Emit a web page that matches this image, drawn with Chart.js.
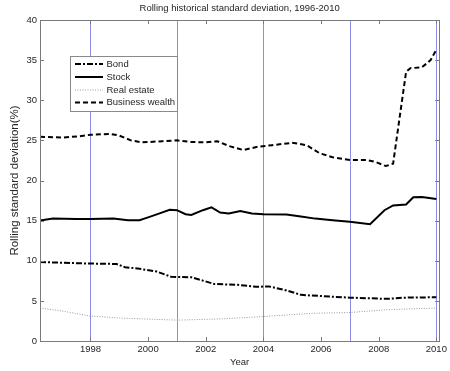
<!DOCTYPE html>
<html>
<head>
<meta charset="utf-8">
<script src="https://cdn.jsdelivr.net/npm/chart.js@4/dist/chart.umd.min.js"></script>
<style>
  html, body { margin: 0; padding: 0; background: #ffffff; }
  #wrap { width: 450px; height: 371px; }
</style>
</head>
<body>
<div id="wrap"><canvas id="chart" width="450" height="371"></canvas></div>
<script>
// Rolling standard deviation (%) by asset class
const bondYears  = [1996.25, 1997.0, 1998.0, 1998.9, 1999.2, 1999.7, 2000.3, 2000.8, 2001.5, 2002.3, 2003.1, 2003.75, 2004.2, 2004.8, 2005.3, 2006.0, 2007.0, 2008.3, 2008.85, 2010.0];
const bondValues = [9.85, 9.75, 9.65, 9.6, 9.2, 9.0, 8.65, 8.0, 7.95, 7.1, 7.0, 6.75, 6.8, 6.3, 5.75, 5.6, 5.4, 5.25, 5.4, 5.45];

const stockYears  = [1996.25, 1996.7, 1997.5, 1998.0, 1998.8, 1999.3, 1999.7, 2000.0, 2000.4, 2000.75, 2001.0, 2001.3, 2001.5, 2001.9, 2002.2, 2002.5, 2002.8, 2003.2, 2003.6, 2004.0, 2004.8, 2005.3, 2005.8, 2006.4, 2007.0, 2007.7, 2008.2, 2008.5, 2008.95, 2009.2, 2009.5, 2010.0];
const stockValues = [15.0, 15.25, 15.2, 15.2, 15.25, 15.05, 15.05, 15.4, 15.9, 16.35, 16.3, 15.8, 15.7, 16.3, 16.65, 16.0, 15.9, 16.2, 15.9, 15.8, 15.75, 15.5, 15.25, 15.05, 14.85, 14.55, 16.3, 16.9, 17.0, 17.9, 17.95, 17.7];

const realEstateYears  = [1996.25, 1997.0, 1998.0, 1999.1, 2001.0, 2002.5, 2003.8, 2005.7, 2007.0, 2008.3, 2009.5, 2010.0];
const realEstateValues = [4.1, 3.75, 3.1, 2.85, 2.6, 2.75, 3.0, 3.45, 3.55, 3.9, 4.05, 4.1];

const businessYears  = [1996.25, 1997.0, 1997.6, 1998.0, 1998.7, 1999.0, 1999.4, 1999.8, 2000.5, 2001.0, 2001.5, 2002.0, 2002.4, 2002.8, 2003.3, 2003.8, 2004.3, 2005.0, 2005.5, 2005.95, 2006.4, 2007.0, 2007.6, 2007.9, 2008.25, 2008.5, 2008.95, 2009.1, 2009.5, 2009.8, 2010.0];
const businessValues = [25.45, 25.35, 25.5, 25.7, 25.8, 25.6, 25.0, 24.75, 24.9, 25.0, 24.8, 24.75, 24.9, 24.3, 23.8, 24.2, 24.4, 24.7, 24.4, 23.4, 22.9, 22.55, 22.55, 22.3, 21.8, 22.1, 33.55, 34.0, 34.1, 35.0, 36.3];

const seriesNames = ['Bond', 'Stock', 'Real estate', 'Business wealth'];
const yearTicks = [1998, 2000, 2002, 2004, 2006, 2008, 2010];
const markerYears = [1998, 2001, 2004, 2007, 2010];

const FONT = '"Liberation Sans", Arial, Helvetica, sans-serif';
const TEXT = '#262626';
const AXIS = '#7a7a7a';

function pts(xs, ys) { return xs.map((x, i) => ({ x: x, y: ys[i] })); }

// Vertical reference lines, box frame, inward ticks and the legend
const decorations = {
  id: 'decorations',
  beforeDatasetsDraw(chart) {
    const { ctx, chartArea: a, scales: { x } } = chart;
    ctx.save();
    ctx.setLineDash([]);
    ctx.strokeStyle = '#8c8cec';
    ctx.lineWidth = 1;
    markerYears.forEach(yr => {
      const px = Math.round(x.getPixelForValue(yr)) + 0.5;
      ctx.beginPath();
      ctx.moveTo(px, a.top);
      ctx.lineTo(px, a.bottom);
      ctx.stroke();
    });
    ctx.restore();
  },
  afterDatasetsDraw(chart) {
    const { ctx, chartArea: a, scales: { x, y } } = chart;
    ctx.save();
    ctx.strokeStyle = AXIS;
    ctx.lineWidth = 1;
    ctx.strokeRect(Math.round(a.left) + 0.5, Math.round(a.top) + 0.5,
                   Math.round(a.right - a.left), Math.round(a.bottom - a.top));
    const tl = 4;
    ctx.beginPath();
    yearTicks.forEach(yr => {
      const px = Math.round(x.getPixelForValue(yr)) + 0.5;
      ctx.moveTo(px, a.bottom); ctx.lineTo(px, a.bottom - tl);
      ctx.moveTo(px, a.top); ctx.lineTo(px, a.top + tl);
    });
    y.ticks.forEach(t => {
      const py = Math.round(y.getPixelForValue(t.value)) + 0.5;
      ctx.moveTo(a.left, py); ctx.lineTo(a.left + tl, py);
      ctx.moveTo(a.right, py); ctx.lineTo(a.right - tl, py);
    });
    ctx.stroke();

    // legend box
    const lx = 70, ly = 56, lw = 107, lh = 55;
    ctx.fillStyle = '#ffffff';
    ctx.fillRect(lx, ly, lw, lh);
    ctx.strokeStyle = '#8a8a8a';
    ctx.strokeRect(lx + 0.5, ly + 0.5, lw, lh);
    const rowY = [64, 77, 90, 102.5];
    chart.data.datasets.forEach((ds, i) => {
      const yy = rowY[i];
      ctx.beginPath();
      ctx.strokeStyle = ds.borderColor;
      ctx.lineWidth = ds.borderWidth;
      ctx.setLineDash(ds.borderDash || []);
      ctx.moveTo(75, yy);
      ctx.lineTo(103, yy);
      ctx.stroke();
      ctx.setLineDash([]);
      ctx.fillStyle = TEXT;
      ctx.font = '9.5px ' + FONT;
      ctx.textBaseline = 'middle';
      ctx.textAlign = 'left';
      ctx.fillText(ds.label, 106.5, yy);
    });
    ctx.restore();
  }
};

new Chart(document.getElementById('chart'), {
  type: 'line',
  data: {
    datasets: [
      { label: seriesNames[0], data: pts(bondYears, bondValues), borderColor: '#000000', borderWidth: 2, borderDash: [6, 2, 2, 2] },
      { label: seriesNames[1], data: pts(stockYears, stockValues), borderColor: '#000000', borderWidth: 2 },
      { label: seriesNames[2], data: pts(realEstateYears, realEstateValues), borderColor: '#9a9a9a', borderWidth: 1, borderDash: [1, 1.5] },
      { label: seriesNames[3], data: pts(businessYears, businessValues), borderColor: '#000000', borderWidth: 2, borderDash: [5, 3] }
    ]
  },
  options: {
    responsive: false,
    animation: false,
    devicePixelRatio: 1,
    layout: { padding: { left: 0, right: 7, top: 0, bottom: 0 } },
    elements: { point: { radius: 0 }, line: { tension: 0, fill: false } },
    plugins: {
      legend: { display: false },
      tooltip: { enabled: false },
      title: {
        display: true,
        fullSize: false,
        text: 'Rolling historical standard deviation, 1996-2010',
        color: TEXT,
        font: { family: FONT, size: 9.5, weight: 'normal' },
        padding: { top: 3, bottom: 5.6 }
      }
    },
    scales: {
      x: {
        type: 'linear',
        min: 1996.25,
        max: 2010.1,
        afterBuildTicks: s => { s.ticks = yearTicks.map(v => ({ value: v })); },
        afterFit: s => { s.height = 30; },
        grid: { display: false, drawTicks: false },
        border: { display: false },
        ticks: { color: TEXT, font: { family: FONT, size: 9.5 }, padding: 3, maxRotation: 0, autoSkip: false, callback: v => String(v) },
        title: { display: true, text: 'Year', color: TEXT, font: { family: FONT, size: 9.5 }, padding: { top: 0, bottom: 3.3 } }
      },
      y: {
        min: 0,
        max: 40,
        afterFit: s => { s.width = 40; },
        grid: { display: false, drawTicks: false },
        border: { display: false },
        ticks: { stepSize: 5, color: TEXT, font: { family: FONT, size: 9.5 }, padding: 3 },
        title: { display: true, text: 'Rolling standard deviation(%)', color: TEXT, font: { family: FONT, size: 11.5 }, padding: { top: 8, bottom: 0 } }
      }
    }
  },
  plugins: [decorations]
});
</script>
</body>
</html>
